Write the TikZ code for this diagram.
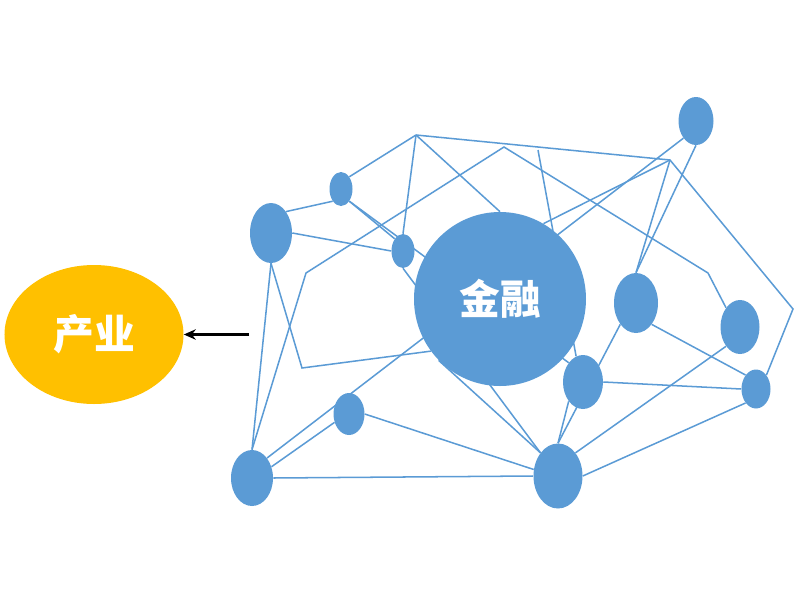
\documentclass[tikz,border=0pt]{standalone}
\usepackage{fontspec}
\usepackage{tikz}
\usetikzlibrary{arrows.meta}
\usetikzlibrary{shapes.geometric}
\usetikzlibrary{backgrounds}
\newfontfamily\cjk{Noto Sans CJK SC}
\definecolor{mblue}{RGB}{91, 155, 213}
\definecolor{mgold}{RGB}{255, 192, 0}
\tikzset{
  dot/.style 2 args={ellipse, fill=mblue, inner sep=0pt, minimum width=#1*0.5mm, minimum height=#2*0.5mm},
  link/.style={mblue, line width=0.38mm},
  big/.style={text=white, font=\cjk\bfseries\fontsize{29}{29}\selectfont},
}

\begin{document}
\begin{tikzpicture}[x=0.25mm, y=-0.25mm]
    \useasboundingbox (0, 0) rectangle (800, 600);

    \node (cy) [dot={89.5}{69.5}, fill=mgold, big] at (94, 334.5) {产业};
    \node (jr) [dot={86}{87}, big] at (500, 299) {金融};

    \node (n1) [dot={21}{30}] at (271, 233) {};
    \node (n2) [dot={11.5}{17}] at (341, 189) {};
    \node (n3) [dot={11.5}{17}] at (403, 251) {};
    \node (n4) [dot={21}{28}] at (252, 478) {};
    \node (n5) [dot={15.5}{21}] at (349, 414) {};
    \node (n6) [dot={17.5}{24}] at (696, 121) {};
    \node (n7) [dot={22}{30}] at (636, 303) {};
    \node (n8) [dot={19.5}{27}] at (740, 327) {};
    \node (n9) [dot={20}{27}] at (583, 382) {};
    \node (n10) [dot={14.5}{19.5}] at (756, 389) {};
    \node (n11) [dot={24.5}{32.5}] at (558, 476) {};

    \coordinate (p1) at (416, 135);
    \coordinate (p2) at (504, 147);
    \coordinate (p3) at (306, 273);
    \coordinate (p4) at (708, 273);
    \coordinate (p5) at (302, 368);
    \coordinate (p6) at (670, 160);
    \coordinate (p7) at (793, 309);
    \coordinate (q) at (538, 150);
    \coordinate (tail) at (249, 334.5);

    \begin{scope}[on background layer]
    \draw [link] (n1.north east) -- (n2.south west);
    \draw [link] (n2.north east) -- (p1);
    \draw [link] (n1.east) -- (n3.west);
    \draw [link] (n2.south east) -- (n3.north west);
    \draw [link] (n2.south east) -- (n9.north west);
    \draw [link] (p1) -- (n3.north);
    \draw [link] (p1) -- (jr.north);
    \draw [link] (p1) -- (p6) -- (p7) -- (n10.north east);
    \draw [link] (q) -- (n9.105);
    \draw [link] (p6) -- (jr.60);
    \draw [link] (p6) -- (n7.north);
    \draw [link] (n6.south) -- (n7.north);
    \draw [link] (n6.south west) -- (n4.north east);
    \draw [link] (n4.north) -- (p3) -- (p2) -- (p4) -- (n8.north west);
    \draw [link] (n1.south) -- (p5) -- (jr.217);
    \draw [link] (n1.south) -- (n4.north);
    \draw [link] (n4.30) -- (n5.210);
    \draw [link] (n5.east) -- (n11.165);
    \draw [link] (n4.east) -- (n11.west);
    \draw [link] (jr.225) -- (n11.north west);
    \draw [link] (n3.south) -- (n11.north west);
    \draw [link] (n7.south west) -- (n11.north);
    \draw [link] (n9.south west) -- (n11.north);
    \draw [link] (n9.east) -- (n10.west);
    \draw [link] (n7.south east) -- (n10.north west);
    \draw [link] (n8.south west) -- (n11.north east);
    \draw [link] (n10.south west) -- (n11.east);
    \end{scope}

    \draw [-{Stealth[length=3mm, width=2.6mm]}, line width=0.6mm] (tail) -- (cy.east);
\end{tikzpicture}
\end{document}
